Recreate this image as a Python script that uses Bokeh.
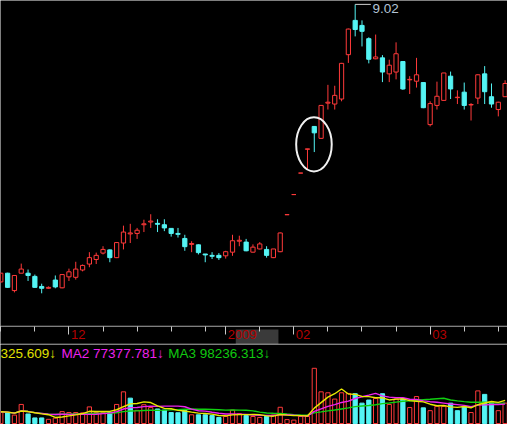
import pandas as pd
from bokeh.plotting import figure
from bokeh.layouts import column
from bokeh.models import Range1d, LinearAxis, FixedTicker, ColumnDataSource
from bokeh.core.properties import value
from bokeh.embed import file_html
from bokeh.resources import INLINE

# ---- data ----
opens = [2.95, 3.14, 2.76, 3.14, 3.14, 3.07, 2.85, 2.81, 2.99, 2.82,
         3.06, 3.05, 3.21, 3.34, 3.44, 3.58, 3.65, 3.48, 3.80, 4.00,
         4.01, 4.20, 4.26, 4.23, 4.20, 4.12, 4.01, 3.90, 3.77, 3.76,
         3.56, 3.53, 3.53, 3.52, 3.60, 3.84, 3.82, 3.60, 3.67, 3.66,
         3.48, 3.61, 4.42, 4.86, 5.33, 5.85, 6.35, 6.09, 6.86, 6.84,
         6.95, 7.92, 8.67, 8.56, 8.27, 7.83, 7.85, 7.50, 7.54, 7.77,
         7.37, 7.34, 7.31, 6.39, 6.81, 6.92, 7.45, 6.98, 7.10, 6.82,
         6.97, 7.50, 7.00, 6.72, 7.00]
highs = [3.15, 3.15, 3.10, 3.35, 3.22, 3.11, 2.91, 2.85, 3.09, 3.11,
         3.24, 3.39, 3.33, 3.60, 3.59, 3.73, 3.66, 3.82, 4.18, 4.22,
         4.13, 4.31, 4.43, 4.32, 4.32, 4.12, 4.13, 3.98, 3.84, 3.77,
         3.56, 3.60, 3.58, 3.63, 3.98, 3.96, 3.89, 3.77, 3.82, 3.73,
         3.67, 4.03, 4.42, 4.86, 5.33, 5.86, 6.36, 6.82, 7.26, 7.24,
         7.74, 8.49, 9.02, 8.67, 8.30, 8.36, 7.91, 7.81, 8.19, 7.78,
         7.45, 7.85, 7.31, 6.90, 7.33, 7.52, 7.55, 7.14, 7.31, 6.86,
         7.49, 7.67, 7.29, 6.89, 7.36]
lows = [2.93, 2.82, 2.72, 3.14, 2.97, 2.82, 2.70, 2.80, 2.81, 2.81,
        2.97, 3.00, 3.18, 3.27, 3.34, 3.55, 3.38, 3.47, 3.66, 3.80,
        3.89, 4.04, 4.13, 4.04, 4.06, 3.94, 3.92, 3.63, 3.60, 3.55,
        3.38, 3.45, 3.43, 3.46, 3.52, 3.73, 3.62, 3.59, 3.66, 3.48,
        3.47, 3.60, 4.42, 4.86, 5.33, 5.42, 5.79, 6.08, 6.72, 6.72,
        6.90, 7.74, 8.32, 8.10, 7.73, 7.82, 7.32, 7.32, 7.38, 7.15,
        7.06, 7.20, 6.75, 6.35, 6.72, 6.91, 6.95, 6.84, 6.72, 6.48,
        6.84, 6.84, 6.76, 6.57, 7.00]
closes = [3.14, 2.83, 3.09, 3.23, 3.09, 2.83, 2.81, 2.83, 2.84, 3.11,
          3.17, 3.23, 3.31, 3.48, 3.53, 3.66, 3.48, 3.81, 4.04, 4.02,
          4.08, 4.22, 4.28, 4.21, 4.13, 4.01, 3.99, 3.72, 3.79, 3.59,
          3.54, 3.51, 3.48, 3.61, 3.85, 3.86, 3.63, 3.71, 3.78, 3.53,
          3.67, 4.02, 4.42, 4.86, 5.33, 5.86, 6.21, 6.81, 6.88, 7.03,
          7.73, 8.48, 8.47, 8.43, 7.82, 7.87, 7.54, 7.69, 7.94, 7.17,
          7.38, 7.48, 6.76, 6.85, 7.01, 7.52, 7.17, 6.99, 6.81, 6.83,
          7.48, 7.11, 6.84, 6.88, 7.29]
volumes = [111600, 104400, 80300, 181200, 91000, 53600, 53500, 40200, 51800, 113300,
           104400, 104400, 100900, 158000, 105300, 105300, 105300, 181200, 300800, 241000,
           125000, 178500, 151700, 138300, 127600, 104400, 102600, 122300, 83000, 83000,
           83000, 75900, 58000, 66900, 127600, 93700, 75900, 66900, 58000, 68700,
           80300, 154400, 37500, 33000, 68700, 66900, 523900, 300800, 291800, 232000,
           291800, 285600, 282900, 193700, 223100, 238300, 282900, 181200, 232000, 238300,
           151700, 256100, 149000, 122300, 163300, 163300, 193700, 122300, 163300, 104400,
           309700, 276700, 193700, 122300, 193700]

week_ticks = [0, 5, 10, 15, 20, 25, 30, 33, 38, 43, 48, 53, 58, 63, 68, 73]
month_ticks = [10, 33, 43, 63]
month_labels = ["12", "2009", "02", "03"]
cursor_span = [34.48, 40.74]          # highlighted date box on the time axis
legend_texts = ["325.609\u2193", "MA2 77377.781\u2193", "MA3 98236.313\u2193"]

# ---- styles ----
RED = "#ff3a3a"
CYAN = "#54f4f4"
BG = "#000000"
FONT = "Liberation Sans"

df = pd.DataFrame(dict(open=opens, high=highs, low=lows, close=closes, volume=volumes))
df["x"] = list(range(len(df)))
up = df["close"] >= df["open"]
df["color"] = [RED if u else CYAN for u in up]
df["fill"] = [BG if u else CYAN for u in up]
df["top"] = df[["open", "close"]].max(axis=1)
df["bottom"] = df[["open", "close"]].min(axis=1)
prev = df["close"].shift(1).fillna(df["open"])
vup = df["close"] >= prev
df["vcolor"] = [RED if u else CYAN for u in vup]
df["vfill"] = [BG if u else CYAN for u in vup]
df["ma5"] = df["volume"].rolling(5, min_periods=1).mean()
df["ma10"] = df["volume"].rolling(10, min_periods=1).mean()
df["ma20"] = df["volume"].rolling(20, min_periods=1).mean()
src = ColumnDataSource(df)

W = 507
BW = 0.62
x_range = Range1d(-0.043, 74.35)


def panel(height, y_range):
    f = figure(width=W, height=height, x_range=x_range, y_range=y_range,
               output_backend="svg", toolbar_location=None, x_axis_type=None, y_axis_type=None,
               background_fill_color=BG, border_fill_color=BG, outline_line_color=None,
               min_border=0)
    return f


def line_axis(color):
    return LinearAxis(ticker=FixedTicker(ticks=[]), axis_line_color=color, axis_line_width=1.5,
                      major_tick_in=0, major_tick_out=1, minor_tick_in=0, minor_tick_out=0,
                      major_tick_line_color=None, major_label_text_font_size="0px",
                      major_label_standoff=0)


# ---- price panel ----
p = panel(326, Range1d(1.974, 9.105))
p.segment(x0="x", y0="low", x1="x", y1="high", color="color", line_width=1, source=src)
p.vbar(x="x", width=BW, top="top", bottom="bottom", fill_color="fill",
       line_color="color", line_width=1, source=src)

imax = int(df["high"].idxmax())
hmax = float(df["high"].max())
p.segment(x0=[imax], y0=[hmax], x1=[imax + 2.3], y1=[hmax], line_color="#d0d0d0", line_width=1)
p.text(x=[imax + 2.55], y=[hmax], text=[f"{hmax:.2f}"], text_color="#b4c4d6", y_offset=4,
       text_font=value(FONT), text_font_size="13.5px", text_baseline="middle", text_align="left")

p.ellipse(x=[45.95], y=[5.958], width=5.22, height=1.185, fill_color=None,
          line_color="#f0f0f0", line_width=2)
p.add_layout(line_axis("#a8a8a8"), "below")

# ---- time axis strip ----
s = panel(18, Range1d(0, 1))
tax = LinearAxis(ticker=FixedTicker(ticks=month_ticks, minor_ticks=week_ticks),
                 major_label_overrides={t: "" for t in month_ticks},
                 axis_line_color=None, major_tick_line_color="#c8c8c8",
                 minor_tick_line_color="#c8c8c8", major_tick_in=8, major_tick_out=0,
                 minor_tick_in=5, minor_tick_out=0, major_label_text_font_size="0px",
                 major_label_standoff=0)
s.add_layout(tax, "above")
s.quad(left=[cursor_span[0]], right=[cursor_span[1]], bottom=[0.02], top=[0.84],
       fill_color="#3a3a3a", line_color=None)
s.text(x=month_ticks, y=[0.54] * len(month_ticks), text=month_labels, x_offset=2,
       text_color="#b40000", text_font=value(FONT), text_font_size="13px",
       text_baseline="middle", text_align="left")
s.add_layout(line_axis("#c8c8c8"), "below")

# ---- volume panel ----
v = panel(80, Range1d(-8925, 749700))
v.vbar(x="x", width=BW, top="volume", bottom=0, fill_color="vfill", line_color="vcolor",
       line_width=1, source=src)
v.line(x="x", y="ma20", line_color="#10d010", line_width=1.4, source=src)
v.line(x="x", y="ma10", line_color="#ee22ee", line_width=1.4, source=src)
v.line(x="x", y="ma5", line_color="#e8e800", line_width=1.4, source=src)

leg = ColumnDataSource(dict(x=[-0.04, 8.92, 24.57], y=[663100] * 3, text=legend_texts,
                            color=["#e0e000", "#ee22ee", "#10c810"]))
v.text(x="x", y="y", text="text", text_color="color", source=leg,
       text_font=value(FONT), text_font_size="13.5px", text_baseline="middle", text_align="left")

layout = column(p, s, v, spacing=0)
open("out.html", "w").write(file_html(layout, INLINE, "chart"))
